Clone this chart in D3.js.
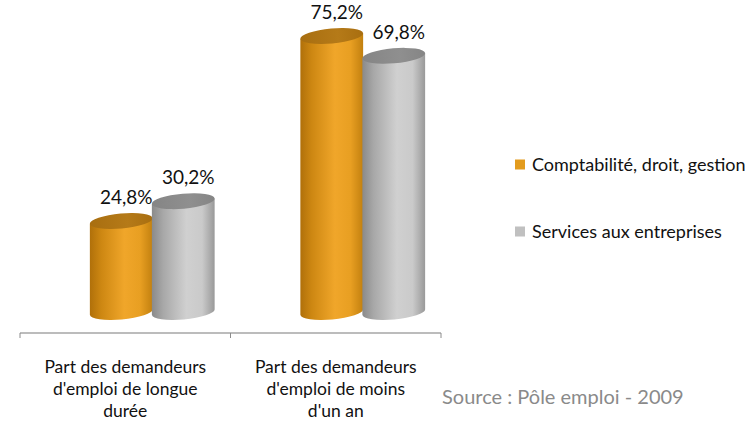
<!DOCTYPE html>
<html><head><meta charset="utf-8">
<script src="https://cdn.jsdelivr.net/npm/d3@7"></script>
<style>body{margin:0;background:#fff}svg{display:block}text{font-family:Lato,"Liberation Sans",sans-serif}</style>
</head><body><svg id="c" width="753" height="421"></svg>
<script>
const categories = [["Part des demandeurs","d'emploi de longue","durée"],["Part des demandeurs","d'emploi de moins","d'un an"]];
const categoryKeys = ["longue","moins"];
const seriesNames = ["Comptabilité, droit, gestion","Services aux entreprises"];
const seriesComptabilite = [24.8, 75.2];
const seriesServices = [30.2, 69.8];
const valueLabels = [["24,8%","75,2%"],["30,2%","69,8%"]];
const sourceText = "Source : Pôle emploi - 2009";

const svg = d3.select("#c");
const x0 = d3.scaleBand().domain(categoryKeys).range([20, 441]);
const x1 = d3.scaleBand().domain([0,1]).range([0, 124]);
const y = d3.scaleLinear().domain([0, 80]).range([312, 18.4]);
const depthShift = 27;
const rx = 31.5, ry = 7.5, tilt = -5;
const rad = tilt*Math.PI/180;

const palettes = [
  {stops:[["0%","#b0700a"],["18%","#cd8712"],["55%","#f0a62a"],["80%","#e89f22"],["100%","#c2800f"]], top:"#b57a18", topEdge:"#a86e10"},
  {stops:[["0%","#8a8a8a"],["18%","#a8a8a8"],["55%","#d0d0d0"],["80%","#cacaca"],["100%","#999999"]], top:"#8f8f8f", topEdge:"#858585"}
];
const defs = svg.append("defs");
palettes.forEach((p,i)=>{
  const g = defs.append("linearGradient").attr("id","g"+i).attr("x1","0").attr("x2","1").attr("y1","0").attr("y2","0");
  p.stops.forEach(s=>g.append("stop").attr("offset",s[0]).attr("stop-color",s[1]));
  const t = defs.append("linearGradient").attr("id","t"+i).attr("x1","0").attr("x2","1").attr("y1","0").attr("y2","0");
  t.append("stop").attr("offset","0%").attr("stop-color",p.topEdge);
  t.append("stop").attr("offset","60%").attr("stop-color",p.top);
  t.append("stop").attr("offset","100%").attr("stop-color",p.topEdge);
});

// axis
const axisY = 333;
svg.append("line").attr("x1",x0.range()[0]).attr("x2",x0.range()[1]).attr("y1",axisY).attr("y2",axisY).attr("stroke","#a6a6a6").attr("stroke-width",1.3);
const tickXs = categoryKeys.map(k=>x0(k)).concat([x0.range()[1]]);
svg.selectAll("line.tick").data(tickXs).enter().append("line").attr("class","tick")
  .attr("x1",d=>d).attr("x2",d=>d).attr("y1",axisY).attr("y2",axisY+5).attr("stroke","#8c8c8c").attr("stroke-width",1);

const series = [seriesComptabilite, seriesServices];
const bars = [];
series.forEach((vals,si)=>{
  vals.forEach((v,ci)=>{
    const cx = x0(categoryKeys[ci]) + x0.bandwidth()/2 - x1.range()[1]/2 + depthShift + x1(si) + x1.bandwidth()/2;
    bars.push({si,ci,v,cx});
  });
});
bars.sort((a,b)=>a.ci-b.ci || a.si-b.si);
const g = svg.append("g");
bars.forEach(b=>{
  const yb = y(0), yt = y(b.v);
  const dx = rx*Math.cos(rad), dy = rx*Math.sin(rad);
  const body = `M${b.cx-dx},${yt-dy} L${b.cx-dx},${yb-dy} A${rx},${ry} ${tilt} 0 0 ${b.cx+dx},${yb+dy} L${b.cx+dx},${yt+dy} Z`;
  g.append("path").attr("d",body).attr("fill",`url(#g${b.si})`);
  g.append("ellipse").attr("cx",b.cx).attr("cy",yt).attr("rx",rx).attr("ry",ry)
    .attr("transform",`rotate(${tilt},${b.cx},${yt})`).attr("fill",`url(#t${b.si})`);
  g.append("text").attr("x",b.cx+5).attr("y",yt-17).attr("text-anchor","middle")
    .attr("font-size",19).attr("fill","#111").text(valueLabels[b.si][b.ci]);
});

// category labels
categoryKeys.forEach((k,ci)=>{
  const t = svg.append("text").attr("x",x0(k)+x0.bandwidth()/2).attr("y",373).attr("text-anchor","middle")
    .attr("font-size",17.5).attr("fill","#111");
  categories[ci].forEach((line,li)=>t.append("tspan").attr("x",x0(k)+x0.bandwidth()/2).attr("dy",li?22:0).text(line));
});

// legend
const legColors = ["#e39c1e","#c0c0c0"];
const legY = [164.5, 231.5];
seriesNames.forEach((n,i)=>{
  svg.append("rect").attr("x",515).attr("y",legY[i]-5).attr("width",10).attr("height",10).attr("fill",legColors[i]);
  svg.append("text").attr("x",532).attr("y",legY[i]+6).attr("font-size",18).attr("fill","#111").text(n);
});

svg.append("text").attr("x",442).attr("y",404).attr("font-size",20).attr("fill","#8a8a8a").text(sourceText);
</script></body></html>
